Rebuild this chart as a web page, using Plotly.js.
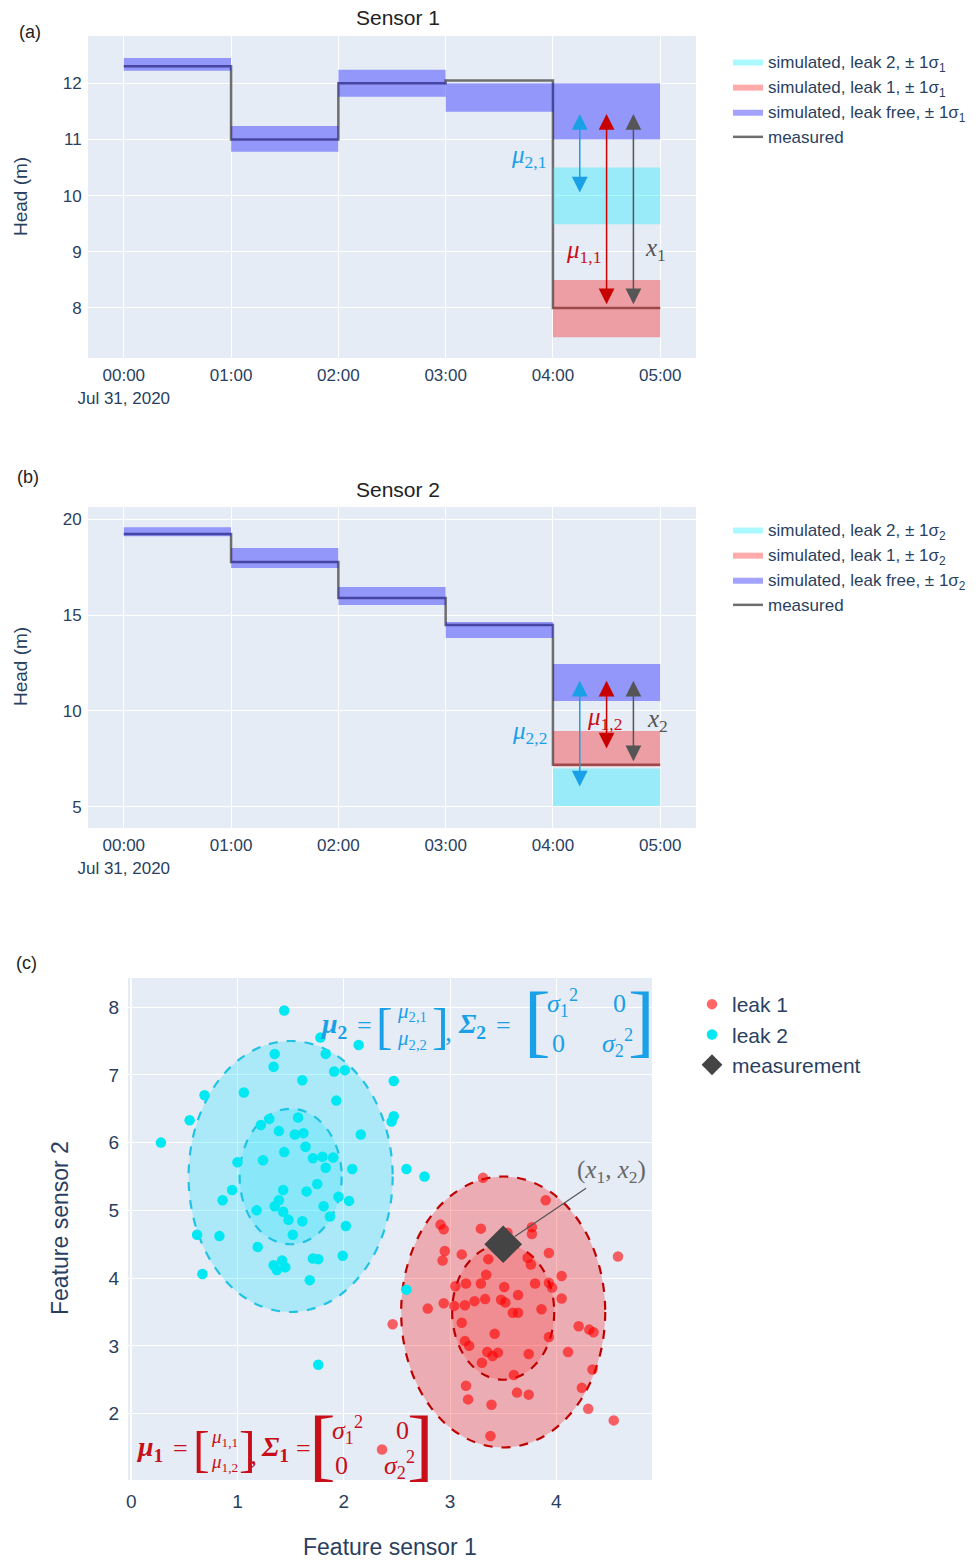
<!DOCTYPE html>
<html><head><meta charset="utf-8">
<script src="https://cdn.plot.ly/plotly-3.0.1.min.js"></script>
<style>body{margin:0;background:#fff}#chart{width:976px;height:1560px}</style>
</head><body><div id="chart"></div>
<script>
// ---------- data ----------
const hours = ['2020-07-31 00:00','2020-07-31 01:00','2020-07-31 02:00','2020-07-31 03:00','2020-07-31 04:00','2020-07-31 05:00'];

// Sensor 1 (per hourly segment)
const s1Measured  = [12.3, 11.0, 12.0, 12.05, 8.0];
const s1FreeLow   = [12.22, 10.78, 11.76, 11.49, 11.0];
const s1FreeHigh  = [12.45, 11.24, 12.24, 12.0, 12.0];
const s1Leak1Low  = [null, null, null, null, 7.48];
const s1Leak1High = [null, null, null, null, 8.5];
const s1Leak2Low  = [null, null, null, null, 9.49];
const s1Leak2High = [null, null, null, null, 10.5];

// Sensor 2
const s2Measured  = [19.22, 17.76, 15.89, 14.48, 7.2];
const s2FreeLow   = [19.1, 17.45, 15.52, 13.8, 10.52];
const s2FreeHigh  = [19.58, 18.49, 16.46, 14.64, 12.45];
const s2Leak1Low  = [null, null, null, null, 7.1];
const s2Leak1High = [null, null, null, null, 8.95];
const s2Leak2Low  = [null, null, null, null, 5.05];
const s2Leak2High = [null, null, null, null, 7.0];

// arrows (mu_2, mu_1, x)
const arrowTimes = ['2020-07-31 04:15','2020-07-31 04:30','2020-07-31 04:45'];
const s1ArrowTop = [11.45, 11.45, 11.45];
const s1ArrowBottom = [10.03, 8.04, 8.04];
const s2ArrowTop = [11.58, 11.58, 11.58];
const s2ArrowBottom = [5.99, 7.97, 7.3];

// Panel (c) features
const leak1X = [3.31,3.90,2.91,2.94,3.29,3.77,3.77,3.54,2.95,2.93,3.11,3.36,3.73,3.76,3.93,4.58,3.34,3.05,3.15,3.29,3.51,3.80,3.93,3.96,4.05,4.05,2.79,2.46,2.94,3.04,3.14,3.23,3.33,3.48,3.52,3.64,3.86,3.59,3.64,3.11,4.21,4.31,4.35,3.42,3.93,3.14,3.18,3.35,3.40,3.45,3.30,3.74,4.11,4.34,3.60,3.15,3.63,3.74,4.24,3.17,3.39,4.30,4.54,3.38,2.36];
const leak1Y = [5.48,5.15,4.79,4.72,4.73,4.75,4.65,4.67,4.40,4.26,4.35,4.28,4.30,4.20,4.37,4.32,4.05,3.88,3.92,3.92,3.87,3.92,3.93,3.86,4.03,3.70,3.55,3.32,3.63,3.59,3.60,3.66,3.69,3.68,3.64,3.75,3.54,3.49,3.49,3.34,3.29,3.24,3.20,3.18,3.13,3.07,3.00,2.91,2.85,2.90,2.75,2.88,2.91,2.65,2.57,2.41,2.31,2.28,2.38,2.21,2.13,2.07,1.90,1.67,1.47];
const leak2X = [1.44,1.78,2.14,1.35,1.34,1.83,1.91,2.01,1.61,2.47,1.06,0.69,1.93,0.55,2.47,2.45,0.28,1.57,1.30,1.22,1.39,1.54,1.62,2.16,1.64,1.44,1.71,1.80,1.90,1.24,1.00,1.83,2.08,2.59,2.76,1.75,1.65,1.43,1.39,0.95,0.86,1.95,2.05,1.81,1.35,1.18,1.43,1.48,1.87,1.61,1.52,2.02,0.62,0.83,1.19,1.71,1.76,1.99,1.34,1.37,1.42,1.45,0.67,1.68,2.59,1.76];
const leak2Y = [7.95,7.55,7.44,7.31,7.12,7.31,7.05,7.07,6.92,6.91,6.74,6.70,6.62,6.33,6.39,6.31,6.00,6.37,6.35,6.26,6.17,6.12,6.14,6.12,5.94,5.86,5.77,5.79,5.78,5.74,5.71,5.63,5.61,5.61,5.50,5.39,5.28,5.30,5.15,5.30,5.15,5.20,5.14,5.06,5.06,5.00,4.98,4.86,4.91,4.84,4.64,4.77,4.64,4.62,4.46,4.29,4.28,4.33,4.19,4.12,4.26,4.16,4.06,3.97,3.83,2.72];
const measurement = [3.5, 4.5];
const leak1Center = [3.5, 3.5];
const leak2Center = [1.5, 5.5];
const sigma = [0.48, 1.0];

// ---------- helpers ----------
function bandPoly(low, high) {
  const x = [], y = [];
  for (let i = 0; i < low.length; i++) {
    if (low[i] == null) continue;
    if (x.length) { x.push(null); y.push(null); }
    x.push(hours[i], hours[i+1], hours[i+1], hours[i], hours[i]);
    y.push(low[i], low[i], high[i], high[i], low[i]);
  }
  return {x, y};
}
function stepY(vals) { return vals.concat([vals[vals.length-1]]); }

const C_FREE = 'rgba(0,0,255,0.36)';
const C_L1 = 'rgba(255,0,0,0.33)';
const C_L2 = 'rgba(0,235,255,0.33)';
const C_MEAS = '#6e6e6e';
const C_BLUE = 'rgb(25,160,230)';
const C_RED = 'rgb(200,15,25)';
const C_GRAY = '#555555';

function panelTraces(meas, fl, fh, l1l, l1h, l2l, l2h, sub, xa, ya, leg) {
  const t = [];
  t.push({type:'scatter', mode:'lines', x: hours, y: stepY(meas), line:{shape:'hv', color:C_MEAS, width:2.5},
    name:'measured', xaxis:xa, yaxis:ya, legend:leg});
  const f = bandPoly(fl, fh);
  t.push({type:'scatter', mode:'lines', x:f.x, y:f.y, fill:'toself', fillcolor:C_FREE, line:{width:0},
    name:'simulated, leak free, ± 1σ<sub>'+sub+'</sub>', xaxis:xa, yaxis:ya, legend:leg, hoverinfo:'skip'});
  const a = bandPoly(l1l, l1h);
  t.push({type:'scatter', mode:'lines', x:a.x, y:a.y, fill:'toself', fillcolor:C_L1, line:{width:0},
    name:'simulated, leak 1, ± 1σ<sub>'+sub+'</sub>', xaxis:xa, yaxis:ya, legend:leg, hoverinfo:'skip'});
  const b = bandPoly(l2l, l2h);
  t.push({type:'scatter', mode:'lines', x:b.x, y:b.y, fill:'toself', fillcolor:C_L2, line:{width:0},
    name:'simulated, leak 2, ± 1σ<sub>'+sub+'</sub>', xaxis:xa, yaxis:ya, legend:leg, hoverinfo:'skip'});
  return t;
}

const traces = [].concat(
  panelTraces(s1Measured, s1FreeLow, s1FreeHigh, s1Leak1Low, s1Leak1High, s1Leak2Low, s1Leak2High, '1', 'x', 'y', 'legend'),
  panelTraces(s2Measured, s2FreeLow, s2FreeHigh, s2Leak1Low, s2Leak1High, s2Leak2Low, s2Leak2High, '2', 'x2', 'y2', 'legend2')
);
traces.push({type:'scatter', mode:'markers', x:leak1X, y:leak1Y, name:'leak 1',
  marker:{color:'rgba(255,0,0,0.6)', size:10.5}, xaxis:'x3', yaxis:'y3', legend:'legend3'});
traces.push({type:'scatter', mode:'markers', x:leak2X, y:leak2Y, name:'leak 2',
  marker:{color:'rgb(0,232,242)', size:10.5}, xaxis:'x3', yaxis:'y3', legend:'legend3'});
traces.push({type:'scatter', mode:'markers', x:[measurement[0]], y:[measurement[1]], name:'measurement',
  marker:{color:'#444444', size:29, symbol:'diamond'}, xaxis:'x3', yaxis:'y3', legend:'legend3'});

// ---------- layout ----------
const W = 976, H = 1560;
const TXT = '#2a3f5f';
const SANS = 'Liberation Sans, Arial, sans-serif';
const SERIF = 'Liberation Serif, Times New Roman, serif';
function P(X, Y) { return {xref:'paper', yref:'paper', x: X/W, y: 1 - Y/H}; }

const baseAxis = {gridcolor:'white', gridwidth:1, zerolinecolor:'white', zerolinewidth:2, showline:false,
  ticks:'outside', ticklen:2, tickcolor:'rgba(0,0,0,0)', tickfont:{size:17, color:TXT, family:SANS}};

const annotations = [];
function txt(X, Y, text, size, color, extra) {
  annotations.push(Object.assign(P(X, Y), {text, showarrow:false, font:{size, color, family:SANS}, xanchor:'center', yanchor:'middle'}, extra || {}));
}
function mtxt(X, Y, text, size, color, extra) {
  annotations.push(Object.assign(P(X, Y), {text, showarrow:false, font:{size, color, family:SERIF}, xanchor:'center', yanchor:'middle'}, extra || {}));
}
// panel labels and titles
txt(30, 32, '(a)', 18, '#222');
txt(28, 477, '(b)', 18, '#222');
txt(26, 963, '(c)', 18, '#222');
txt(398, 18, 'Sensor 1', 21, '#222');
txt(398, 489, 'Sensor 2', 21, '#222');
txt(20, 197, 'Head (m)', 19, TXT, {textangle:-90});
txt(20, 667, 'Head (m)', 19, TXT, {textangle:-90});
txt(60, 1228, 'Feature sensor 2', 23, TXT, {textangle:-90});
txt(390, 1547, 'Feature sensor 1', 23, TXT);

// arrows
const arrowColors = [C_BLUE, 'rgb(200,0,0)', C_GRAY];
function arrows(xr, yr, tops, bottoms) {
  for (let i = 0; i < arrowTimes.length; i++) {
    annotations.push({xref:xr, yref:yr, axref:xr, ayref:yr, x:arrowTimes[i], y:tops[i], ax:arrowTimes[i], ay:bottoms[i],
      text:'', showarrow:true, arrowhead:2, arrowsize:2.1, arrowwidth:1.5, arrowside:'end+start',
      startarrowhead:2, startarrowsize:2.1, arrowcolor:arrowColors[i], standoff:0, startstandoff:0});
  }
}
arrows('x', 'y', s1ArrowTop, s1ArrowBottom);
arrows('x2', 'y2', s2ArrowTop, s2ArrowBottom);
mtxt(528, 157, '<i>μ</i><sub>2,1</sub>', 25, C_BLUE);
mtxt(583, 252, '<i>μ</i><sub>1,1</sub>', 25, C_RED);
mtxt(655, 250, '<i>x</i><sub>1</sub>', 25, C_GRAY);
mtxt(529, 732, '<i>μ</i><sub>2,2</sub>', 25, C_BLUE);
mtxt(604, 719, '<i>μ</i><sub>1,2</sub>', 25, C_RED);
mtxt(657, 720, '<i>x</i><sub>2</sub>', 25, C_GRAY);

// measurement annotation
annotations.push({xref:'x3', yref:'y3', x:measurement[0], y:measurement[1], text:'(<i>x</i><sub>1</sub>, <i>x</i><sub>2</sub>)',
  font:{size:25, color:'#666', family:SERIF}, showarrow:true, arrowhead:0, arrowwidth:1.2, arrowcolor:'#555',
  ax:108, ay:-73, standoff:14});

// math: mu_2, Sigma_2 (blue)
mtxt(333, 1025, '<b><i>μ</i><sub>2</sub></b>', 28, C_BLUE);
mtxt(364, 1025, '=', 26, C_BLUE);
mtxt(384, 1026, '[', 50, C_BLUE);
mtxt(412, 1026, '<i>μ</i><sub>2,1</sub><br><i>μ</i><sub>2,2</sub>', 21, C_BLUE);
mtxt(440, 1026, ']', 50, C_BLUE);
mtxt(448, 1031, ',', 28, C_BLUE);
mtxt(472, 1025, '<b><i>Σ</i><sub>2</sub></b>', 28, C_BLUE);
mtxt(503, 1025, '=', 26, C_BLUE);
mtxt(537, 1020, '[', 80, C_BLUE);
mtxt(562, 1003, '<i>σ</i><sub>1</sub><sup>2</sup>', 26, C_BLUE);
mtxt(619, 1003, '0', 26, C_BLUE);
mtxt(558, 1043, '0', 26, C_BLUE);
mtxt(617, 1043, '<i>σ</i><sub>2</sub><sup>2</sup>', 26, C_BLUE);
mtxt(641, 1020, ']', 80, C_BLUE);
// math: mu_1, Sigma_1 (red)
mtxt(149, 1448, '<b><i>μ</i><sub>1</sub></b>', 28, C_RED);
mtxt(180, 1448, '=', 26, C_RED);
mtxt(201, 1449, '[', 50, C_RED);
mtxt(224, 1450, '<i>μ</i><sub>1,1</sub><br><i>μ</i><sub>1,2</sub>', 19, C_RED);
mtxt(247, 1449, ']', 50, C_RED);
mtxt(254, 1454, ',', 28, C_RED);
mtxt(275, 1448, '<b><i>Σ</i><sub>1</sub></b>', 28, C_RED);
mtxt(303, 1448, '=', 26, C_RED);
mtxt(322, 1444, '[', 80, C_RED);
mtxt(347, 1430, '<i>σ</i><sub>1</sub><sup>2</sup>', 26, C_RED);
mtxt(402, 1430, '0', 26, C_RED);
mtxt(341, 1465, '0', 26, C_RED);
mtxt(399, 1465, '<i>σ</i><sub>2</sub><sup>2</sup>', 26, C_RED);
mtxt(420, 1444, ']', 80, C_RED);

// ellipses
function ell(c, k, fill, line) {
  return {type:'circle', xref:'x3', yref:'y3', layer:'between',
    x0:c[0]-k*sigma[0], x1:c[0]+k*sigma[0], y0:c[1]-k*sigma[1], y1:c[1]+k*sigma[1],
    fillcolor:fill, line:{color:line, width:2.2, dash:'dash'}};
}
const shapes = [
  ell(leak2Center, 2, 'rgba(0,225,255,0.25)', 'rgb(30,195,230)'),
  ell(leak2Center, 1, 'rgba(0,225,255,0.2)', 'rgb(30,195,230)'),
  ell(leak1Center, 2, 'rgba(255,0,0,0.27)', 'rgb(190,0,0)'),
  ell(leak1Center, 1, 'rgba(255,0,0,0.18)', 'rgb(190,0,0)')
];

const layout = {
  width: W, height: H, autosize:false,
  margin:{l:0, r:0, t:0, b:0},
  paper_bgcolor:'white', plot_bgcolor:'#E5ECF6',
  font:{family:SANS, color:TXT},
  showlegend:true,
  xaxis: Object.assign({}, baseAxis, {domain:[88/W, 696/W], anchor:'y', type:'date',
    range:['2020-07-30 23:40','2020-07-31 05:20'], dtick:3600000, tick0:'2020-07-31 00:00'}),
  yaxis: Object.assign({}, baseAxis, {domain:[1-358/H, 1-36/H], anchor:'x', range:[7.11, 12.84], dtick:1}),
  xaxis2: Object.assign({}, baseAxis, {domain:[88/W, 696/W], anchor:'y2', type:'date',
    range:['2020-07-30 23:40','2020-07-31 05:20'], dtick:3600000, tick0:'2020-07-31 00:00'}),
  yaxis2: Object.assign({}, baseAxis, {domain:[1-828/H, 1-507/H], anchor:'x2', range:[3.9, 20.63], dtick:5}),
  xaxis3: Object.assign({}, baseAxis, {domain:[128/W, 652/W], anchor:'y3', range:[-0.03, 4.9], dtick:1, ticklen:4,
    tickfont:{size:19, color:TXT, family:SANS}}),
  yaxis3: Object.assign({}, baseAxis, {domain:[1-1480/H, 1-978/H], anchor:'x3', range:[1.02, 8.43], dtick:1, ticklen:4,
    tickfont:{size:19, color:TXT, family:SANS}}),
  legend:  {x:728/W, y:1-44/H, xanchor:'left', yanchor:'top', traceorder:'reversed', bgcolor:'rgba(0,0,0,0)', font:{size:17, color:TXT}},
  legend2: {x:728/W, y:1-512/H, xanchor:'left', yanchor:'top', traceorder:'reversed', bgcolor:'rgba(0,0,0,0)', font:{size:17, color:TXT}},
  legend3: {x:692/W, y:1-984/H, xanchor:'left', yanchor:'top', traceorder:'normal', bgcolor:'rgba(0,0,0,0)', font:{size:21, color:TXT}},
  annotations, shapes
};

Plotly.newPlot('chart', traces, layout, {staticPlot:true});
</script>
</body></html>
